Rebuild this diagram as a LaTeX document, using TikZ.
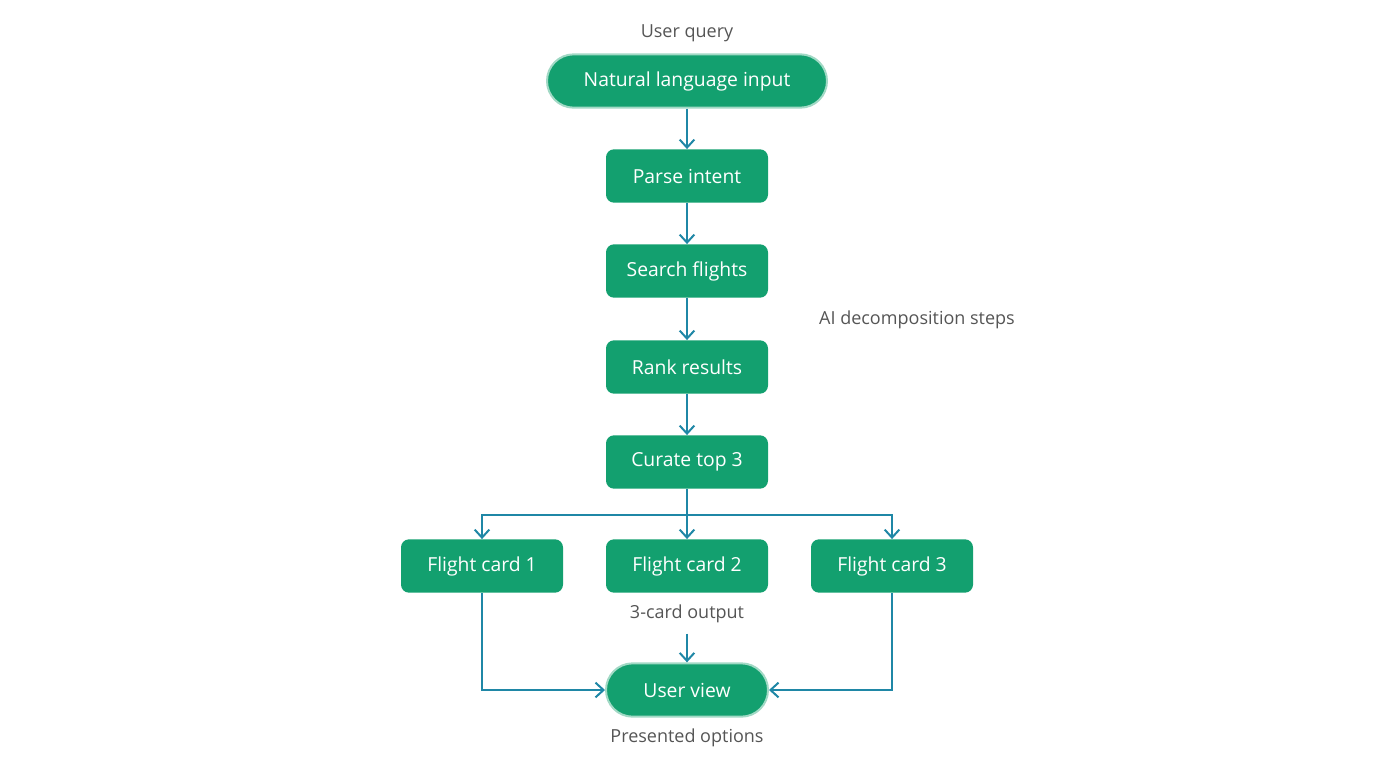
\documentclass[tikz,border=0pt]{standalone}
\usepackage{fontspec}
\setmainfont{Open Sans}
\usetikzlibrary{arrows.meta}
\definecolor{grn}{HTML}{13A06F}
\definecolor{arr}{HTML}{1F87A6}
\definecolor{lab}{HTML}{555555}
\begin{document}
\begin{tikzpicture}[x=0.75pt,y=-0.75pt,
 box/.style={fill=grn,text=white,rounded corners=6pt,minimum width=121.5pt,minimum height=40pt,inner sep=0pt,font=\fontsize{14.5}{16}\selectfont},
 pill/.style={box,rounded corners=20pt},
 lbl/.style={text=lab,font=\fontsize{13.5}{16}\selectfont},
 ar/.style={draw=arr,line width=1.5pt,-{Straight Barb[length=6pt,width=11pt]}},
 ln/.style={draw=arr,line width=1.5pt}]
\useasboundingbox (0,0) rectangle (1376,768);
\node[pill,minimum width=210pt,draw=grn!40,line width=1.5pt] (nl) at (687,81) {Natural language input};
\node[box] (pi) at (687,176) {Parse intent};
\node[box] (sf) at (687,271) {Search flights};
\node[box] (rr) at (687,367) {Rank results};
\node[box] (ct) at (687,462) {Curate top 3};
\node[box] (c1) at (482,566) {Flight card 1};
\node[box] (c2) at (687,566) {Flight card 2};
\node[box] (c3) at (892,566) {Flight card 3};
\node[pill,draw=grn!40,line width=1.5pt] (uv) at (687,690) {User view};
\node[lbl] (l1) at (687,33) {User query};
\node[lbl] (l2) at (917,320) {AI decomposition steps};
\node[lbl] (l3) at (687,614) {3-card output};
\node[lbl] (l4) at (687,738) {Presented options};
\draw[ar] (nl) -- (pi);
\draw[ar] (pi) -- (sf);
\draw[ar] (sf) -- (rr);
\draw[ar] (rr) -- (ct);
\coordinate (br) at (687,515);
\draw[ln] (ct.south) -- (br);
\draw[ar] (br) -| (c1.north);
\draw[ar] (br) -- (c2.north);
\draw[ar] (br) -| (c3.north);
\draw[ar] (c1.south) |- (uv.west);
\draw[ar] (c3.south) |- (uv.east);
\draw[ar] (l3.south) ++(0,6) -- (uv.north);
\end{tikzpicture}
\end{document}
